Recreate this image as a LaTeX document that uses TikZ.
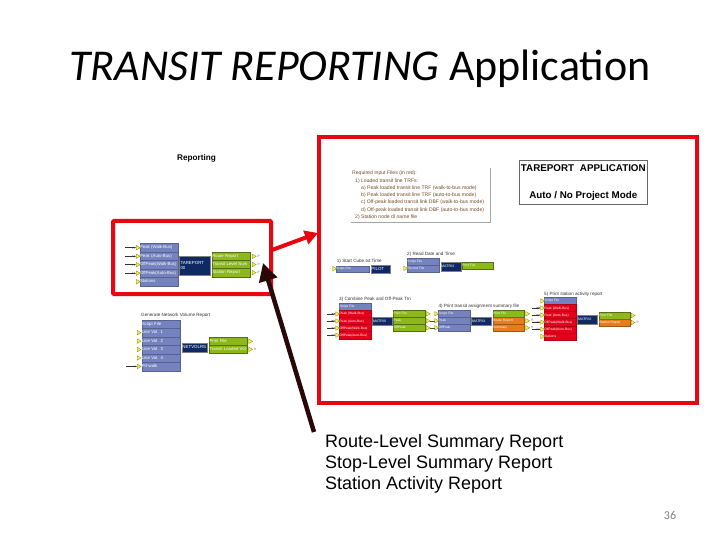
\documentclass[tikz,border=0pt]{standalone}
\usepackage{fontspec}
\setmainfont{Liberation Sans}
\newfontfamily\titlefont{Carlito}
\usetikzlibrary{shapes.geometric, arrows.meta, positioning}
\definecolor{repblue}{RGB}{116, 131, 191}
\definecolor{repnavy}{RGB}{15, 42, 99}
\definecolor{repgreen}{RGB}{141, 184, 26}
\definecolor{reporange}{RGB}{229, 124, 30}
\definecolor{repred}{RGB}{226, 0, 26}
\definecolor{repyellow}{RGB}{240, 240, 90}
\definecolor{frame}{RGB}{232, 6, 16}
\definecolor{callout}{RGB}{40, 8, 8}
\tikzset{
  rowbox/.style={anchor=north west, inner sep=0pt, outer sep=0pt, text=white, align=left,
    font=\fontsize{4.3}{5}\selectfont, text height=3.2pt, text depth=0.8pt},
  narrow/.style={font=\fontsize{3.3}{4}\selectfont, text height=2.5pt, text depth=0.4pt},
  inbox/.style={rowbox, fill=repblue, draw=repblue!75!black, line width=0.3pt},
  redbox/.style={rowbox, fill=repred, draw=repred!80!black, line width=0.3pt},
  greenbox/.style={rowbox, fill=repgreen, draw=repgreen!60!black, line width=0.4pt},
  orangebox/.style={rowbox, fill=reporange, draw=reporange!70!black, line width=0.4pt},
  progbox/.style={anchor=north west, fill=repnavy, draw=gray, line width=0.4pt, inner sep=1pt, outer sep=0pt,
    text=white, align=left, font=\fontsize{4.4}{5}\selectfont},
  porttri/.style={isosceles triangle, isosceles triangle apex angle=60, fill=repyellow,
    draw=olive, line width=0.3pt, inner sep=0pt, minimum size=4pt},
  stub/.style={-{Stealth[length=2pt] Stealth[length=2pt]}, line width=0.5pt, black!80},
  outmark/.style={right=0.5pt, inner sep=0pt, font=\fontsize{5}{5}\selectfont, text=gray},
  smalltitle/.style={anchor=west, inner sep=0pt, font=\fontsize{4.6}{5}\selectfont, text=black!80},
  noteline/.style={anchor=west, inner sep=0pt, font=\fontsize{5.1}{6}\selectfont, text=brown!60!black},
  bodyline/.style={anchor=base west, inner sep=0pt, font=\fontsize{18}{21}\selectfont},
  framebox/.style={draw=frame, line width=4pt, anchor=north west, inner sep=0pt, outer sep=0pt},
}
\begin{document}
\begin{tikzpicture}[x=1pt,y=-1pt]
\useasboundingbox (0,0) rectangle (720,540);
\fill[white] (0,0) rectangle (720,540);

% title and page number
\node[anchor=base, inner sep=0pt, font=\titlefont\fontsize{44}{50}\selectfont] (pagetitle) at (360,81)
  {\textit{TRANSIT REPORTING} Application};
\node[anchor=base, inner sep=0pt, font=\titlefont\fontsize{12}{14}\selectfont, text=gray] (pagenum) at (670,519) {36};
\node[anchor=west, inner sep=0pt, font=\bfseries\fontsize{8.2}{10}\selectfont] (reporting) at (177,158) {Reporting};

% reporting block
\foreach \txt [count=\i from 0] in {Peak (Walk-Bus), Peak (Auto-Bus), OffPeak(Walk-Bus), OffPeak(Auto-Bus), Stations}
  \node[inbox, minimum width=38pt, minimum height=8.5pt, text width=38pt] (repin\i) at (140,{243.5+8.5*\i}) {\txt};
\node[progbox, minimum width=31pt, minimum height=19pt, text width=29pt] (repprog) at (179.5,256) {TAREPORT\\00};
\foreach \txt [count=\i from 0] in {Route Report, Transit Level Sum, Station Report}
  \node[greenbox, minimum width=38pt, minimum height=8.1pt, text width=38pt] (repout\i) at (212.3,{252.4+8.1*\i}) {\txt};
\foreach \i in {0,...,4} {
  \node[porttri] (repport\i) at (137.5,{247.7+8.5*\i}) {};
}
\foreach \i in {0,...,3} {
  \coordinate[left=11pt of repport\i] (repfree\i);
  \draw[stub] (repfree\i) -- (repport\i);
}
\foreach \i in {0,...,2} {
  \node[porttri] (repoutport\i) at (253.5,{256.4+8.1*\i}) {};
  \node[outmark, right=0.5pt of repoutport\i] (repoutmark\i) {>>};
}

% network volume block
\node[smalltitle] (nettitle) at (141,315) {Generate Network Volume Report};
\foreach \txt [count=\i from 0] in {Script File, Line Vol. 1, Line Vol. 2, Line Vol. 3, Line Vol. 4, Prt-walk}
  \node[inbox, minimum width=38pt, minimum height=8.45pt, text width=38pt] (netin\i) at (141.8,{320+8.45*\i}) {\txt};
\node[progbox, minimum width=25.5pt, minimum height=9pt, text width=24pt, inner sep=0.5pt] (netprog) at (181.7,342.7) {NETVOLRS};
\node[greenbox, minimum width=37.5pt, minimum height=8pt, text width=37pt] (netout0) at (209.3,337.3) {Print File};
\node[greenbox, minimum width=37.5pt, minimum height=8pt, text width=37pt] (netout1) at (209.3,345.3) {Transit Loaded Vol};
\foreach \i in {1,...,5}
  \node[porttri] (netport\i) at (138.5,{324.2+8.45*\i}) {};
\coordinate[left=11pt of netport5] (netfree);
\draw[stub] (netfree) -- (netport5);
\foreach \i in {0,1}
  \node[porttri] (netoutport\i) at (250,{341.3+8*\i}) {};
\node[outmark, right=0.5pt of netoutport1] (netoutmark) {>>};

% red frames
\node[framebox, rounded corners=1pt, minimum width=158pt, minimum height=73pt] (smallframe) at (113,221) {};
\node[framebox, minimum width=378pt, minimum height=265pt] (bigframe) at (318.5,137.5) {};

% note box and application box
\draw[gray!70, line width=0.6pt] (350.7,222.3) -- (490.7,222.3) -- (490.7,168.3);
\node[noteline] (note0) at (352,173) {Required Input Files (in red):};
\node[noteline] (note1) at (355,180.7) {1) Loaded transit line TRFs:};
\node[noteline] (note2) at (361,188) {a) Peak loaded transit line TRF (walk-to-bus mode)};
\node[noteline] (note3) at (361,195) {b) Peak loaded transit line TRF (auto-to-bus mode)};
\node[noteline] (note4) at (361,202) {c) Off-peak loaded transit link DBF (walk-to-bus mode)};
\node[noteline] (note5) at (361,209.7) {d) Off-peak loaded transit link DBF (auto-to-bus mode)};
\node[noteline] (note6) at (355,216.7) {2) Station node dl name file};
\node[draw=gray!80!black, line width=0.7pt, anchor=north west, inner sep=0pt, outer sep=0pt, minimum width=128pt, minimum height=44pt] (appbox) at (519.3,160.3) {};
\node[inner sep=0pt, font=\bfseries\fontsize{9.8}{11}\selectfont] (apptitle) at (583.3,168.5) {TAREPORT\hspace{0.6em}APPLICATION};
\node[inner sep=0pt, font=\bfseries\fontsize{9.8}{11}\selectfont] (appmode) at (583.3,195.5) {Auto / No Project Mode};

% step 1
\node[smalltitle] (onetitle) at (336.7,261) {1) Start Cube.txt Time};
\node[inbox, narrow, minimum width=33pt, minimum height=6pt, text width=33pt] (onein) at (336,265.7) {Script File};
\node[progbox, minimum width=19.5pt, minimum height=7.5pt, inner sep=0.5pt, text width=18pt] (oneprog) at (370.7,265.3) {PILOT};
\node[porttri] (oneport) at (334,268.7) {};

% step 2
\node[smalltitle] (twotitle) at (407,254.5) {2) Read Date and Time};
\node[inbox, narrow, minimum width=32pt, minimum height=6.7pt, text width=32pt] (twoin0) at (407.3,258.3) {Script File};
\node[inbox, narrow, minimum width=32pt, minimum height=6.7pt, text width=32pt] (twoin1) at (407.3,265) {Record File};
\node[progbox, minimum width=20pt, minimum height=9pt, inner sep=0.5pt, text width=19pt, font=\fontsize{3.6}{4}\selectfont] (twoprog) at (440.7,261.7) {MATRIX};
\node[greenbox, narrow, minimum width=31.3pt, minimum height=6.4pt, text width=31pt] (twoout) at (462,262.3) {Print File};
\node[porttri] (twoport) at (405,268.3) {};

% step 3
\node[smalltitle] (threetitle) at (339,299.3) {3) Combine Peak and Off-Peak Trn};
\node[inbox, narrow, minimum width=31.4pt, minimum height=7.07pt, text width=31pt] (threein0) at (339.3,303.3) {Script File};
\foreach \txt [count=\i] in {Peak (Walk-Bus), Peak (Auto-Bus), OffPeak(Walk-Bus), OffPeak(Auto-Bus)}
  \node[redbox, narrow, minimum width=31.4pt, minimum height=7.07pt, text width=31pt] (threein\i) at (339.3,{303.3+7.07*\i}) {\txt};
\node[progbox, minimum width=19.4pt, minimum height=8pt, inner sep=0.5pt, text width=18pt, font=\fontsize{3.6}{4}\selectfont] (threeprog) at (372.3,317.3) {MATRIX};
\foreach \txt [count=\i from 0] in {Print File, Peak, OffPeak}
  \node[greenbox, narrow, minimum width=31.7pt, minimum height=7pt, text width=31pt] (threeout\i) at (393.3,{310.3+7*\i}) {\txt};
\foreach \i in {1,...,4} {
  \node[porttri] (threeport\i) at (337,{306.9+7.07*\i}) {};
  \coordinate[left=9pt of threeport\i] (threefree\i);
  \draw[stub] (threefree\i) -- (threeport\i);
}
\foreach \i in {0,1,2}
  \node[porttri] (threeoutport\i) at (427.5,{313.8+7*\i}) {};

% step 4
\node[smalltitle] (fourtitle) at (438.3,306) {4) Print transit assignment summary file};
\foreach \txt [count=\i from 0] in {Script File, Peak, OffPeak}
  \node[inbox, narrow, minimum width=31.4pt, minimum height=7pt, text width=31pt] (fourin\i) at (438.3,{310.3+7*\i}) {\txt};
\node[progbox, minimum width=19.7pt, minimum height=7.4pt, inner sep=0.5pt, text width=18pt, font=\fontsize{3.6}{4}\selectfont] (fourprog) at (471.3,317.3) {MATRIX};
\node[greenbox, narrow, minimum width=31.6pt, minimum height=7pt, text width=31pt] (fourout0) at (492.7,310.3) {Print File};
\node[orangebox, narrow, minimum width=31.6pt, minimum height=7pt, text width=31pt] (fourout1) at (492.7,317.3) {Route Report};
\node[orangebox, narrow, minimum width=31.6pt, minimum height=7pt, text width=31pt] (fourout2) at (492.7,324.3) {Summary};
\foreach \i in {0,1,2}
  \node[porttri] (fourport\i) at (436,{313.8+7*\i}) {};
\foreach \i in {1,2}
  \draw[line width=0.5pt, black!70] (threeoutport\i) -- (fourport\i);
\foreach \i in {0,1,2}
  \node[porttri] (fouroutport\i) at (527,{313.8+7*\i}) {};
\foreach \i in {1,2}
  \node[outmark, right=0.5pt of fouroutport\i] (fouroutmark\i) {>>};

% step 5
\node[smalltitle] (fivetitle) at (544,294) {5) Print station activity report};
\node[inbox, narrow, minimum width=32pt, minimum height=7.1pt, text width=31.5pt] (fivein0) at (544,297.3) {Script File};
\foreach \txt [count=\i] in {Peak (Walk-Bus), Peak (Auto-Bus), OffPeak(Walk-Bus), OffPeak(Auto-Bus), Stations}
  \node[redbox, narrow, minimum width=32pt, minimum height=7.1pt, text width=31.5pt] (fivein\i) at (544,{297.3+7.1*\i}) {\txt};
\node[progbox, minimum width=19.7pt, minimum height=9pt, inner sep=0.5pt, text width=18pt, font=\fontsize{3.6}{4}\selectfont] (fiveprog) at (577.3,315) {MATRIX};
\node[greenbox, narrow, minimum width=30.7pt, minimum height=7pt, text width=30pt] (fiveout0) at (599,312) {Print File};
\node[orangebox, narrow, minimum width=30.7pt, minimum height=7pt, text width=30pt] (fiveout1) at (599,319) {Station Report};
\foreach \i in {0,...,5}
  \node[porttri] (fiveport\i) at (542,{300.9+7.1*\i}) {};
\foreach \i in {1,...,4} {
  \coordinate[left=9pt of fiveport\i] (fivefree\i);
  \draw[stub] (fivefree\i) -- (fiveport\i);
}
\foreach \i in {0,1}
  \node[porttri] (fiveoutport\i) at (632.5,{315.5+7*\i}) {};
\node[outmark, right=0.5pt of fiveoutport1] (fiveoutmark) {>>};

% report list
\node[bodyline] (rep0) at (325,447) {Route-Level Summary Report};
\node[bodyline] (rep1) at (325,468) {Stop-Level Summary Report};
\node[bodyline] (rep2) at (325,489) {Station Activity Report};

% callout arrows
\coordinate (redstart) at (272,250);
\coordinate (redend) at (318,233);
\draw[frame, line width=4pt, -{Triangle[length=13pt,width=14pt]}] (redstart) -- (redend);
\coordinate (blackstart) at (314,432);
\coordinate (blackend) at (263,263);
\draw[callout, line width=4.5pt, -{Triangle[length=18pt,width=18pt]}] (blackstart) -- (blackend);
\end{tikzpicture}
\end{document}
